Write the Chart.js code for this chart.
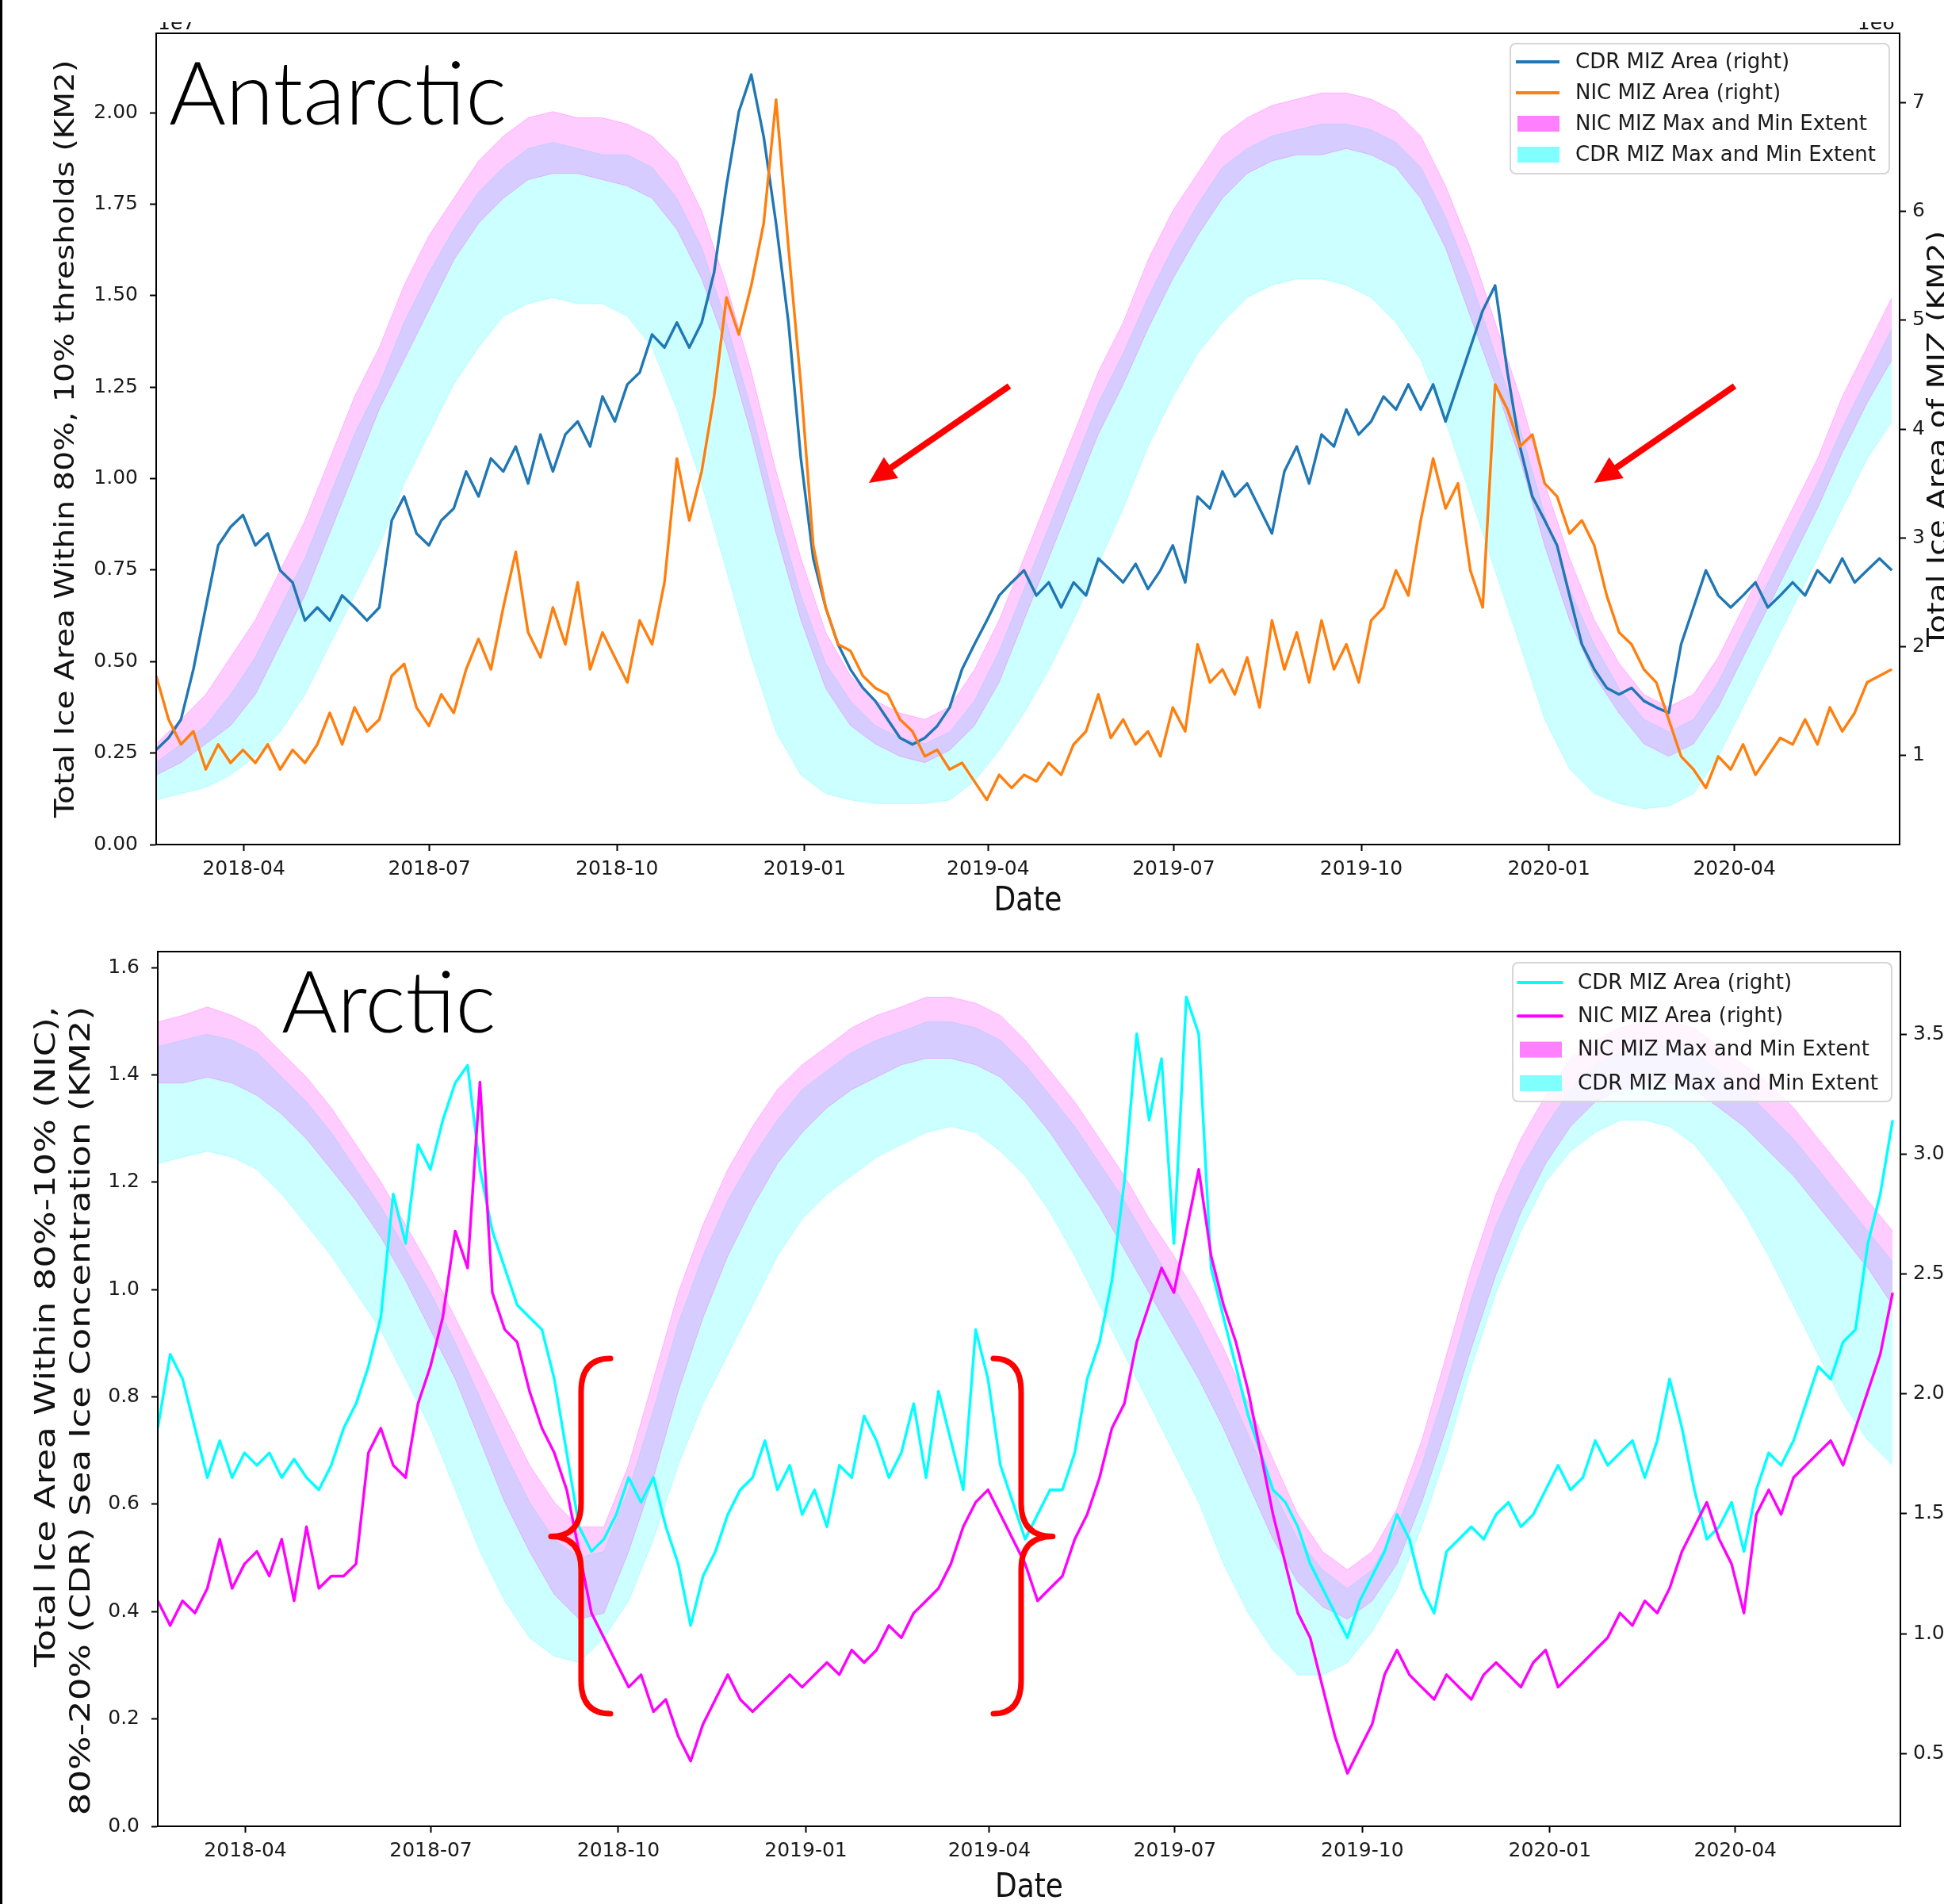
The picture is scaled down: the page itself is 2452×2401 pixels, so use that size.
<!DOCTYPE html>
<html>
<head>
<meta charset="utf-8">
<script src="https://cdn.jsdelivr.net/npm/chart.js@4.4.1/dist/chart.umd.min.js"></script>
<style>
  html, body { margin: 0; padding: 0; background: #fff; }
  body { position: relative; width: 2452px; height: 2401px; overflow: hidden; }
  .panel { position: absolute; left: 0; }
  #edge { position: absolute; left: 0; top: 0; width: 3px; height: 2401px; background: #000; }
</style>
</head>
<body>
<canvas id="antarctic" class="panel" style="top:0" width="2452" height="1170"></canvas>
<canvas id="arctic" class="panel" style="top:1170px" width="2452" height="1231"></canvas>
<div id="edge"></div>
<script>
// x axis is days counted from the left edge of both panels
const START_UTC = Date.UTC(2018, 1, 17);
const X_MAX_DAYS = 855;
const LINE_STEP_DAYS = 6.08;
const BAND_STEP_DAYS = 12.16;
const quarterLabels = ['2018-04', '2018-07', '2018-10', '2019-01', '2019-04', '2019-07', '2019-10', '2020-01', '2020-04'];
const legendLabels = ['CDR MIZ Area (right)', 'NIC MIZ Area (right)', 'NIC MIZ Max and Min Extent', 'CDR MIZ Max and Min Extent'];

// ---- Antarctic: MIZ area (right axis, 1e6 km2) ----
const antCdrArea = [
  1.05,1.16,1.33,1.79,2.36,2.93,3.10,3.21,2.93,3.04,
  2.70,2.59,2.24,2.36,2.24,2.47,2.36,2.24,2.36,3.16,
  3.38,3.04,2.93,3.16,3.27,3.61,3.38,3.73,3.61,3.84,
  3.50,3.95,3.61,3.95,4.07,3.84,4.30,4.07,4.41,4.52,
  4.87,4.75,4.98,4.75,4.98,5.44,6.24,6.92,7.26,6.69,
  5.89,4.98,3.73,2.81,2.36,2.02,1.79,1.62,1.50,1.33,
  1.16,1.10,1.16,1.27,1.44,1.79,2.02,2.24,2.47,2.59,
  2.70,2.47,2.59,2.36,2.59,2.47,2.81,2.70,2.59,2.76,
  2.53,2.70,2.93,2.59,3.38,3.27,3.61,3.38,3.50,3.27,
  3.04,3.61,3.84,3.50,3.95,3.84,4.18,3.95,4.07,4.30,
  4.18,4.41,4.18,4.41,4.07,4.41,4.75,5.09,5.32,4.52,
  3.84,3.38,3.16,2.93,2.47,2.02,1.79,1.62,1.56,1.62,
  1.50,1.44,1.39,2.02,2.36,2.70,2.47,2.36,2.47,2.59,
  2.36,2.47,2.59,2.47,2.70,2.59,2.81,2.59,2.70,2.81,
  2.70
];
const antNicArea = [
  1.73,1.33,1.10,1.22,0.87,1.10,0.93,1.05,0.93,1.10,
  0.87,1.05,0.93,1.10,1.39,1.10,1.44,1.22,1.33,1.73,
  1.84,1.44,1.27,1.56,1.39,1.79,2.07,1.79,2.36,2.87,
  2.13,1.90,2.36,2.02,2.59,1.79,2.13,1.90,1.67,2.24,
  2.02,2.59,3.73,3.16,3.61,4.30,5.21,4.87,5.32,5.89,
  7.03,5.67,4.41,2.93,2.36,2.02,1.96,1.73,1.62,1.56,
  1.33,1.22,0.99,1.05,0.87,0.93,0.76,0.59,0.82,0.70,
  0.82,0.76,0.93,0.82,1.10,1.22,1.56,1.16,1.33,1.10,
  1.22,0.99,1.44,1.22,2.02,1.67,1.79,1.56,1.90,1.44,
  2.24,1.79,2.13,1.67,2.24,1.79,2.02,1.67,2.24,2.36,
  2.70,2.47,3.16,3.73,3.27,3.50,2.70,2.36,4.41,4.18,
  3.84,3.95,3.50,3.38,3.04,3.16,2.93,2.47,2.13,2.02,
  1.79,1.67,1.33,0.99,0.87,0.70,0.99,0.87,1.10,0.82,
  0.99,1.16,1.10,1.33,1.10,1.44,1.22,1.39,1.67,1.73,
  1.79
];
// ---- Antarctic: max/min extent bands (left axis, 1e7 km2) ----
const antNicMax = [
  0.275,0.342,0.410,0.512,0.614,0.749,0.885,1.054,1.224,1.359,
  1.529,1.664,1.766,1.868,1.936,1.986,2.003,1.986,1.986,1.969,
  1.936,1.868,1.732,1.529,1.292,1.020,0.783,0.580,0.461,0.393,
  0.359,0.342,0.376,0.478,0.614,0.783,0.953,1.122,1.292,1.427,
  1.597,1.732,1.834,1.936,1.986,2.020,2.037,2.054,2.054,2.037,
  2.003,1.936,1.800,1.631,1.427,1.224,0.986,0.783,0.614,0.495,
  0.410,0.376,0.410,0.512,0.647,0.783,0.919,1.054,1.224,1.359,
  1.495
];
const antNicMin = [
  0.190,0.224,0.275,0.325,0.410,0.546,0.681,0.851,1.020,1.190,
  1.325,1.461,1.597,1.698,1.766,1.817,1.834,1.834,1.817,1.800,
  1.766,1.681,1.546,1.359,1.122,0.851,0.614,0.427,0.325,0.275,
  0.241,0.224,0.258,0.325,0.444,0.614,0.783,0.953,1.122,1.258,
  1.410,1.546,1.664,1.766,1.834,1.868,1.885,1.885,1.902,1.885,
  1.851,1.766,1.631,1.444,1.258,1.054,0.817,0.614,0.461,0.359,
  0.275,0.241,0.275,0.376,0.512,0.647,0.783,0.919,1.071,1.207,
  1.325
];
const antCdrMax = [
  0.224,0.275,0.325,0.410,0.512,0.647,0.783,0.953,1.122,1.258,
  1.427,1.563,1.681,1.783,1.851,1.902,1.919,1.902,1.885,1.885,
  1.851,1.766,1.631,1.427,1.190,0.919,0.681,0.495,0.393,0.325,
  0.292,0.275,0.308,0.393,0.529,0.698,0.868,1.037,1.207,1.342,
  1.495,1.631,1.749,1.851,1.902,1.936,1.953,1.969,1.969,1.953,
  1.919,1.851,1.715,1.546,1.342,1.139,0.902,0.698,0.546,0.427,
  0.342,0.308,0.342,0.444,0.580,0.715,0.851,0.986,1.139,1.275,
  1.410
];
const antCdrMin = [
  0.122,0.139,0.156,0.190,0.241,0.308,0.410,0.546,0.681,0.817,
  0.986,1.122,1.258,1.359,1.444,1.478,1.495,1.478,1.478,1.444,
  1.359,1.190,0.986,0.749,0.512,0.308,0.190,0.139,0.122,0.112,
  0.112,0.112,0.122,0.173,0.258,0.359,0.478,0.614,0.766,0.919,
  1.088,1.224,1.342,1.427,1.495,1.529,1.546,1.546,1.529,1.495,
  1.427,1.325,1.156,0.953,0.749,0.546,0.342,0.207,0.139,0.112,
  0.098,0.105,0.139,0.241,0.376,0.512,0.647,0.783,0.919,1.054,
  1.156
];
const antLeftTicks = [0, 0.25, 0.5, 0.75, 1, 1.25, 1.5, 1.75, 2];
const antRightTicks = [1, 2, 3, 4, 5, 6, 7];

// ---- Arctic: MIZ area (right axis) ----
const arcCdrArea = [
  1.857,2.165,2.062,1.857,1.651,1.805,1.651,1.754,1.702,1.754,
  1.651,1.728,1.651,1.600,1.702,1.857,1.959,2.114,2.319,2.833,
  2.627,3.039,2.936,3.141,3.296,3.370,2.936,2.679,2.525,2.371,
  2.319,2.268,2.062,1.754,1.446,1.343,1.394,1.497,1.651,1.548,
  1.651,1.446,1.291,1.034,1.240,1.343,1.497,1.600,1.651,1.805,
  1.600,1.702,1.497,1.600,1.446,1.702,1.651,1.908,1.805,1.651,
  1.754,1.959,1.651,2.011,1.805,1.600,2.268,2.062,1.702,1.548,
  1.394,1.497,1.600,1.600,1.754,2.062,2.216,2.473,2.884,3.501,
  3.141,3.398,2.627,3.655,3.501,2.525,2.319,2.114,1.908,1.754,
  1.600,1.548,1.446,1.291,1.189,1.086,0.983,1.137,1.240,1.343,
  1.497,1.394,1.189,1.086,1.343,1.394,1.446,1.394,1.497,1.548,
  1.446,1.497,1.600,1.702,1.600,1.651,1.805,1.702,1.754,1.805,
  1.651,1.805,2.062,1.857,1.600,1.394,1.446,1.548,1.343,1.600,
  1.754,1.702,1.805,1.959,2.114,2.062,2.216,2.268,2.627,2.833,
  3.141
];
const arcNicArea = [
  1.137,1.034,1.137,1.086,1.189,1.394,1.189,1.291,1.343,1.240,
  1.394,1.137,1.446,1.189,1.240,1.240,1.291,1.754,1.857,1.702,
  1.651,1.959,2.114,2.319,2.679,2.525,3.300,2.422,2.268,2.216,
  2.011,1.857,1.754,1.600,1.343,1.086,0.983,0.880,0.777,0.829,
  0.675,0.726,0.572,0.469,0.623,0.726,0.829,0.726,0.675,0.726,
  0.777,0.829,0.777,0.829,0.880,0.829,0.932,0.880,0.932,1.034,
  0.983,1.086,1.137,1.189,1.291,1.446,1.548,1.600,1.497,1.394,
  1.291,1.137,1.189,1.240,1.394,1.497,1.651,1.857,1.959,2.216,
  2.371,2.525,2.422,2.679,2.936,2.576,2.371,2.216,2.011,1.754,
  1.497,1.291,1.086,0.983,0.777,0.572,0.418,0.521,0.623,0.829,
  0.932,0.829,0.777,0.726,0.829,0.777,0.726,0.829,0.880,0.829,
  0.777,0.880,0.932,0.777,0.829,0.880,0.932,0.983,1.086,1.034,
  1.137,1.086,1.189,1.343,1.446,1.548,1.394,1.291,1.086,1.497,
  1.600,1.497,1.651,1.702,1.754,1.805,1.702,1.857,2.011,2.165,
  2.422
];
// ---- Arctic: max/min extent bands (left axis) ----
const arcNicMax = [
  1.499,1.511,1.527,1.511,1.488,1.442,1.396,1.339,1.270,1.201,
  1.121,1.040,0.948,0.856,0.765,0.673,0.604,0.558,0.558,0.673,
  0.834,0.994,1.121,1.224,1.304,1.373,1.419,1.453,1.488,1.511,
  1.527,1.545,1.545,1.534,1.511,1.465,1.408,1.350,1.281,1.212,
  1.132,1.063,0.983,0.891,0.788,0.684,0.581,0.512,0.478,0.512,
  0.592,0.719,0.879,1.040,1.178,1.281,1.362,1.431,1.465,1.488,
  1.499,1.499,1.488,1.453,1.419,1.385,1.339,1.281,1.224,1.166,
  1.109
];
const arcNicMin = [
  1.385,1.385,1.396,1.385,1.362,1.327,1.281,1.224,1.166,1.098,
  1.017,0.925,0.834,0.719,0.604,0.512,0.432,0.386,0.397,0.512,
  0.650,0.811,0.948,1.063,1.155,1.235,1.293,1.339,1.373,1.396,
  1.419,1.431,1.431,1.419,1.396,1.350,1.293,1.224,1.155,1.075,
  0.994,0.914,0.834,0.742,0.638,0.535,0.455,0.409,0.386,0.420,
  0.489,0.604,0.742,0.891,1.029,1.144,1.235,1.304,1.350,1.373,
  1.385,1.385,1.373,1.339,1.304,1.258,1.212,1.155,1.098,1.040,
  0.971
];
const arcCdrMax = [
  1.453,1.465,1.476,1.465,1.442,1.396,1.350,1.293,1.224,1.155,
  1.075,0.994,0.902,0.799,0.696,0.604,0.535,0.501,0.512,0.627,
  0.776,0.937,1.063,1.166,1.247,1.316,1.373,1.408,1.442,1.465,
  1.481,1.499,1.499,1.488,1.465,1.419,1.362,1.304,1.235,1.166,
  1.086,1.006,0.925,0.834,0.730,0.627,0.535,0.478,0.443,0.478,
  0.558,0.673,0.822,0.983,1.121,1.224,1.304,1.373,1.419,1.442,
  1.453,1.453,1.442,1.408,1.373,1.327,1.281,1.224,1.166,1.109,
  1.052
];
const arcCdrMin = [
  1.235,1.247,1.258,1.247,1.224,1.178,1.121,1.063,0.994,0.925,
  0.834,0.742,0.627,0.512,0.420,0.351,0.317,0.305,0.351,0.420,
  0.535,0.673,0.788,0.879,0.971,1.063,1.132,1.178,1.212,1.247,
  1.270,1.293,1.304,1.293,1.258,1.212,1.144,1.063,0.971,0.879,
  0.788,0.696,0.604,0.489,0.397,0.328,0.282,0.282,0.305,0.363,
  0.443,0.558,0.696,0.856,0.994,1.109,1.201,1.258,1.293,1.316,
  1.316,1.304,1.270,1.212,1.144,1.063,0.971,0.879,0.788,0.719,
  0.673
];
const arcLeftTicks = [0, 0.2, 0.4, 0.6, 0.8, 1.0, 1.2, 1.4, 1.6];
const arcRightTicks = [0.5, 1, 1.5, 2, 2.5, 3, 3.5];

// ---------------------------------------------------------------------------
const FONT = "'DejaVu Sans', sans-serif";
const RED = '#ff0000';
const MAGENTA_FILL = 'rgba(255,0,255,0.2)';
const CYAN_FILL = 'rgba(0,255,255,0.2)';

Chart.defaults.font.family = FONT;
Chart.defaults.font.size = 25;
Chart.defaults.color = '#1a1a1a';

const quarterDays = quarterLabels.map(s => {
  const [y, m] = s.split('-').map(Number);
  return (Date.UTC(y, m - 1, 1) - START_UTC) / 86400000;
});
const toPoints = (vals, step) => vals.map((y, i) => ({x: i * step, y}));

function drawText(ctx, text, x, y, o) {
  ctx.save();
  ctx.translate(x, y);
  ctx.scale(1, o.stretchY || 1);
  if (o.rotate) ctx.rotate(o.rotate);
  ctx.font = o.font;
  ctx.fillStyle = o.color || '#111';
  ctx.textAlign = o.align || 'center';
  ctx.textBaseline = o.baseline || 'middle';
  ctx.fillText(text, 0, 0);
  ctx.restore();
}

function drawArrow(ctx, x1, y1, x2, y2) {
  const ang = Math.atan2(y2 - y1, x2 - x1);
  const head = 34, hw = 16;
  const bx = x2 - head * Math.cos(ang), by = y2 - head * Math.sin(ang);
  ctx.strokeStyle = RED; ctx.fillStyle = RED; ctx.lineWidth = 8; ctx.lineCap = 'butt';
  ctx.beginPath(); ctx.moveTo(x1, y1); ctx.lineTo(bx + 4 * Math.cos(ang), by + 4 * Math.sin(ang)); ctx.stroke();
  ctx.beginPath();
  ctx.moveTo(x2, y2);
  ctx.lineTo(bx + hw * Math.sin(ang), by - hw * Math.cos(ang));
  ctx.lineTo(bx - hw * Math.sin(ang), by + hw * Math.cos(ang));
  ctx.closePath(); ctx.fill();
}

function drawBrace(ctx, xs, xe, xt, yT, yM, yB) {
  const r = 42;
  ctx.strokeStyle = RED; ctx.lineWidth = 7; ctx.lineCap = 'round'; ctx.lineJoin = 'round';
  ctx.beginPath();
  ctx.moveTo(xe, yT);
  ctx.quadraticCurveTo(xs, yT, xs, yT + r);
  ctx.lineTo(xs, yM - r);
  ctx.quadraticCurveTo(xs, yM, xt, yM);
  ctx.quadraticCurveTo(xs, yM, xs, yM + r);
  ctx.lineTo(xs, yB - r);
  ctx.quadraticCurveTo(xs, yB, xe, yB);
  ctx.stroke();
}

function drawLegend(ctx, a, L, entries) {
  const x0 = a.right - L.right - L.width, y0 = a.top + L.top;
  ctx.save();
  ctx.beginPath();
  ctx.roundRect(x0, y0, L.width, L.height, 7);
  ctx.fillStyle = 'rgba(255,255,255,0.8)'; ctx.fill();
  ctx.strokeStyle = '#d6d6d6'; ctx.lineWidth = 2; ctx.stroke();
  ctx.font = '26px ' + FONT; ctx.textAlign = 'left'; ctx.textBaseline = 'middle';
  entries.forEach((e, i) => {
    const cy = y0 + L.first + i * L.gap;
    if (e.kind === 'line') {
      ctx.strokeStyle = e.color; ctx.lineWidth = 4;
      ctx.beginPath(); ctx.moveTo(x0 + 7, cy); ctx.lineTo(x0 + 62, cy); ctx.stroke();
    } else {
      ctx.fillStyle = e.color; ctx.fillRect(x0 + 9, cy - 10, 53, 20);
    }
    ctx.fillStyle = '#1a1a1a';
    ctx.fillText(e.label, x0 + 82, cy + 1);
  });
  ctx.restore();
}

const decor = {
  id: 'decor',
  afterDatasetsDraw(chart, _args, o) {
    const ctx = chart.ctx, a = chart.chartArea;
    const xs = chart.scales.x, yl = chart.scales.yL;
    ctx.save();
    // spines
    ctx.strokeStyle = '#000'; ctx.lineWidth = 2;
    ctx.strokeRect(a.left, a.top, a.right - a.left, a.bottom - a.top);
    // region name
    drawText(ctx, o.region.text, a.left + o.region.dx, a.top + o.region.dy,
      {font: '300 ' + o.region.size + 'px Lato, ' + FONT, color: '#000', align: 'left', baseline: 'alphabetic'});
    // red annotations
    o.arrows.forEach(ar => drawArrow(ctx,
      xs.getPixelForValue(ar.from[0]), yl.getPixelForValue(ar.from[1]),
      xs.getPixelForValue(ar.to[0]), yl.getPixelForValue(ar.to[1])));
    o.braces.forEach(b => drawBrace(ctx,
      xs.getPixelForValue(b.stroke), xs.getPixelForValue(b.end), xs.getPixelForValue(b.tip),
      yl.getPixelForValue(b.top), yl.getPixelForValue(b.mid), yl.getPixelForValue(b.bottom)));
    // legend
    const entries = [
      {kind: 'line', color: o.lineColors[0], label: legendLabels[0]},
      {kind: 'line', color: o.lineColors[1], label: legendLabels[1]},
      {kind: 'patch', color: '#ff80ff', label: legendLabels[2]},
      {kind: 'patch', color: '#80ffff', label: legendLabels[3]}
    ];
    drawLegend(ctx, a, o.legend, entries);
    // axis titles
    const midY = (a.top + a.bottom) / 2;
    drawText(ctx, 'Date', (a.left + a.right) / 2, a.bottom + o.dateDy, {font: '36px ' + FONT, stretchY: 1.2});
    o.yTitles.forEach(t => drawText(ctx, t.text, t.x, t.y === undefined ? midY : a.top + t.y,
      {font: t.size + 'px ' + FONT, rotate: -Math.PI / 2, stretchY: t.stretch, align: t.align || 'center'}));
    // clipped offset labels at the top edge
    if (o.offsets) {
      ctx.beginPath(); ctx.rect(0, o.offsets.clipTop, chart.width, chart.height); ctx.clip();
      drawText(ctx, o.offsets.left, a.left + 2, o.offsets.baseline, {font: '25px ' + FONT, align: 'left', baseline: 'alphabetic'});
      drawText(ctx, o.offsets.right, a.right - 6, o.offsets.baseline, {font: '25px ' + FONT, align: 'right', baseline: 'alphabetic'});
    }
    ctx.restore();
  }
};

function makePanel(id, p) {
  const band = (vals, color, fill, bg, order) => ({
    data: toPoints(vals, BAND_STEP_DAYS), yAxisID: 'yL', borderColor: color, borderWidth: 1,
    fill: fill, backgroundColor: bg, order: order
  });
  const datasets = [
    {label: legendLabels[0], data: toPoints(p.cdrArea, LINE_STEP_DAYS), yAxisID: 'yR',
     borderColor: p.lineColors[0], borderWidth: 3.4, fill: false, order: 1},
    {label: legendLabels[1], data: toPoints(p.nicArea, LINE_STEP_DAYS), yAxisID: 'yR',
     borderColor: p.lineColors[1], borderWidth: 3.4, fill: false, order: 0},
    band(p.nicMin, 'rgba(255,0,255,0.22)', false, undefined, 2),
    band(p.nicMax, 'rgba(255,0,255,0.22)', '-1', MAGENTA_FILL, 2),
    band(p.cdrMin, 'rgba(0,255,255,0.22)', false, undefined, 3),
    band(p.cdrMax, 'rgba(0,255,255,0.22)', '-1', CYAN_FILL, 3)
  ];
  const tickGrid = {drawOnChartArea: false, drawTicks: true, tickLength: 8, tickWidth: 2, color: '#000'};
  const border = {display: true, color: '#000', width: 2};
  return new Chart(document.getElementById(id), {
    type: 'line',
    data: {datasets},
    options: {
      responsive: false, animation: false, devicePixelRatio: 1,
      layout: {padding: {top: p.padTop, left: 0, right: 0, bottom: 0}},
      elements: {point: {radius: 0}, line: {tension: 0, borderJoinStyle: 'round'}},
      plugins: {legend: {display: false}, tooltip: {enabled: false}, decor: p.decor},
      scales: {
        x: {
          type: 'linear', position: 'bottom', min: 0, max: X_MAX_DAYS,
          afterBuildTicks: s => { s.ticks = quarterDays.map(v => ({value: v})); },
          afterFit: s => { s.height = p.xHeight; },
          ticks: {autoSkip: false, maxRotation: 0, padding: 8, callback: (v, i) => quarterLabels[i]},
          grid: tickGrid, border
        },
        yL: {
          type: 'linear', position: 'left', min: p.leftRange[0], max: p.leftRange[1],
          afterBuildTicks: s => { s.ticks = p.leftTicks.map(v => ({value: v})); },
          afterFit: s => { s.width = p.leftWidth; },
          ticks: {padding: 15, callback: v => v.toFixed(p.leftDigits)},
          grid: tickGrid, border
        },
        yR: {
          type: 'linear', position: 'right', min: p.rightRange[0], max: p.rightRange[1],
          afterBuildTicks: s => { s.ticks = p.rightTicks.map(v => ({value: v})); },
          afterFit: s => { s.width = p.rightWidth; },
          ticks: {padding: 8, callback: v => v.toFixed(p.rightDigits)},
          grid: tickGrid, border
        }
      }
    },
    plugins: [decor]
  });
}

makePanel('antarctic', {
  cdrArea: antCdrArea, nicArea: antNicArea,
  nicMax: antNicMax, nicMin: antNicMin, cdrMax: antCdrMax, cdrMin: antCdrMin,
  lineColors: ['#1f77b4', '#ff7f0e'],
  leftRange: [0, 2.217], leftTicks: antLeftTicks, leftDigits: 2,
  rightRange: [0.179, 7.64], rightTicks: antRightTicks, rightDigits: 0,
  padTop: 42, xHeight: 105, leftWidth: 197, rightWidth: 56,
  decor: {
    lineColors: ['#1f77b4', '#ff7f0e'],
    region: {text: 'Antarctic', dx: 16, dy: 115, size: 110},
    arrows: [{from: [418.4, 1.253], to: [349.5, 0.988]}, {from: [774.1, 1.253], to: [705.2, 0.988]}],
    braces: [],
    legend: {right: 13, top: 13, width: 478, height: 164, first: 23, gap: 39},
    dateDy: 72,
    yTitles: [
      {text: 'Total Ice Area Within 80%, 10% thresholds (KM2)', x: 84, size: 34, stretch: 1.15},
      {text: 'Total Ice Area of MIZ (KM2)', x: 2446, size: 34, stretch: 1.15}
    ],
    offsets: {left: '1e7', right: '1e6', baseline: 37, clipTop: 28}
  }
});

makePanel('arctic', {
  cdrArea: arcCdrArea, nicArea: arcNicArea,
  nicMax: arcNicMax, nicMin: arcNicMin, cdrMax: arcCdrMax, cdrMin: arcCdrMin,
  lineColors: ['#00ffff', '#ff00ff'],
  leftRange: [0, 1.63], leftTicks: arcLeftTicks, leftDigits: 1,
  rightRange: [0.197, 3.844], rightTicks: arcRightTicks, rightDigits: 1,
  padTop: 23, xHeight: 98, leftWidth: 199, rightWidth: 55,
  decor: {
    lineColors: ['#00ffff', '#ff00ff'],
    region: {text: 'Arctic', dx: 156, dy: 102, size: 108},
    arrows: [],
    braces: [
      {stroke: 207.7, end: 222.1, tip: 192.9, top: 0.872, mid: 0.540, bottom: 0.210},
      {stroke: 423.6, end: 410.0, tip: 439.1, top: 0.872, mid: 0.540, bottom: 0.210}
    ],
    legend: {right: 11, top: 14, width: 478, height: 175, first: 25, gap: 42.3},
    dateDy: 78,
    yTitles: [
      {text: 'Total Ice Area Within 80%-10% (NIC),', x: 60, y: 69, size: 36, stretch: 1.25, align: 'right'},
      {text: '80%-20% (CDR) Sea Ice Concentration (KM2)', x: 104, y: 69, size: 36, stretch: 1.25, align: 'right'}
    ]
  }
});
</script>
</body>
</html>
